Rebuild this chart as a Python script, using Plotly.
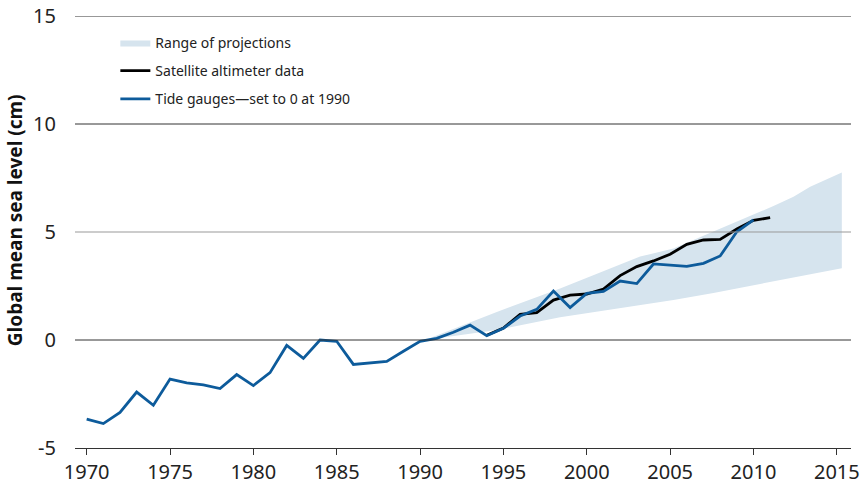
import plotly.graph_objects as go

# Tide gauge record (cm), set to 0 at 1990
tide_years = list(range(1970, 2011))
tide_values = [-3.66, -3.87, -3.35, -2.41, -3.02, -1.81, -1.99, -2.08, -2.25, -1.60,
               -2.11, -1.51, -0.25, -0.85, 0.00, -0.06, -1.13, -1.06, -0.99, -0.52,
               -0.06, 0.08, 0.36, 0.69, 0.20, 0.54, 1.11, 1.42, 2.27, 1.50,
               2.16, 2.25, 2.73, 2.61, 3.52, 3.47, 3.41, 3.55, 3.89, 5.01, 5.56]

# Satellite altimeter record (cm)
sat_years = list(range(1994, 2012))
sat_values = [0.22, 0.55, 1.19, 1.27, 1.85, 2.08, 2.13, 2.36, 2.98, 3.40,
              3.66, 3.97, 4.43, 4.63, 4.66, 5.14, 5.54, 5.66]

# Range of projections (cm)
proj_years = [1990.3, 1994.6, 1998.4, 2003.2, 2005.2, 2007.6, 2011.2, 2012.4, 2013.4, 2015.3]
proj_upper = [0.0, 1.30, 2.39, 3.86, 4.24, 5.02, 6.20, 6.63, 7.10, 7.75]
proj_lower = [0.0, 0.46, 1.05, 1.63, 1.85, 2.18, 2.70, 2.88, 3.04, 3.32]

y_ticks = [-5, 0, 5, 10, 15]
y_tick_text = ["-5", "0", "5", "10", "15"]
x_ticks = [1970, 1975, 1980, 1985, 1990, 1995, 2000, 2005, 2010, 2015]
grid_colors = {0: "#333333", 5: "#999999", 10: "#333333", 15: "#333333"}

FONT = "Noto Sans"
BLUE = "#0d5b9b"
BAND = "#d6e4ee"

fig = go.Figure()

fig.add_trace(go.Scatter(x=proj_years, y=proj_lower, mode="lines",
                         line=dict(width=0, color=BAND), showlegend=False,
                         hoverinfo="skip", legendgroup="r"))
fig.add_trace(go.Scatter(x=proj_years, y=proj_upper, mode="lines",
                         line=dict(width=0, color=BAND), fill="tonexty",
                         fillcolor=BAND, name="Range of projections",
                         legendgroup="r"))

for v, c in grid_colors.items():
    fig.add_hline(y=v, line=dict(color=c, width=1), layer="above")

fig.add_trace(go.Scatter(x=sat_years, y=sat_values, mode="lines",
                         line=dict(color="black", width=2.8),
                         name="Satellite altimeter data", legendgroup="s"))
fig.add_trace(go.Scatter(x=tide_years, y=tide_values, mode="lines",
                         line=dict(color=BLUE, width=2.8),
                         name="Tide gauges\u2014set to 0 at 1990", legendgroup="t"))

fig.update_layout(
    width=864, height=487,
    margin=dict(l=75, r=13, t=16, b=39, autoexpand=False),
    paper_bgcolor="white", plot_bgcolor="white",
    font=dict(family=FONT, size=20, color="#222"),
    showlegend=True,
    legend=dict(x=0.052, y=0.975, xanchor="left", yanchor="top",
                font=dict(size=14, color="#222"), itemwidth=30,
                tracegroupgap=7, bgcolor="rgba(0,0,0,0)", traceorder="grouped"),
    xaxis=dict(range=[1969.3, 2015.85], tickvals=x_ticks, showgrid=False,
               zeroline=False, showline=True, linecolor="#333333", linewidth=1,
               ticks="outside", ticklen=6, tickcolor="#333333", tickwidth=1,
               tickfont=dict(size=20), automargin=False),
    yaxis=dict(range=[-5, 15], tickvals=y_ticks, ticktext=y_tick_text,
               showgrid=False, zeroline=False,
               showline=False, ticks="outside", ticklen=14,
               tickcolor="rgba(0,0,0,0)", tickfont=dict(size=20), automargin=False),
    annotations=[dict(text="<b>Global mean sea level (cm)</b>", textangle=-90,
                      xref="paper", yref="paper", x=-0.077, y=0.528,
                      xanchor="center", yanchor="middle", showarrow=False,
                      font=dict(size=19, color="#111"))],
)

fig.write_html("out.html", config={"displayModeBar": False},
               post_script="document.body.style.margin='0';document.body.style.overflow='hidden';")
